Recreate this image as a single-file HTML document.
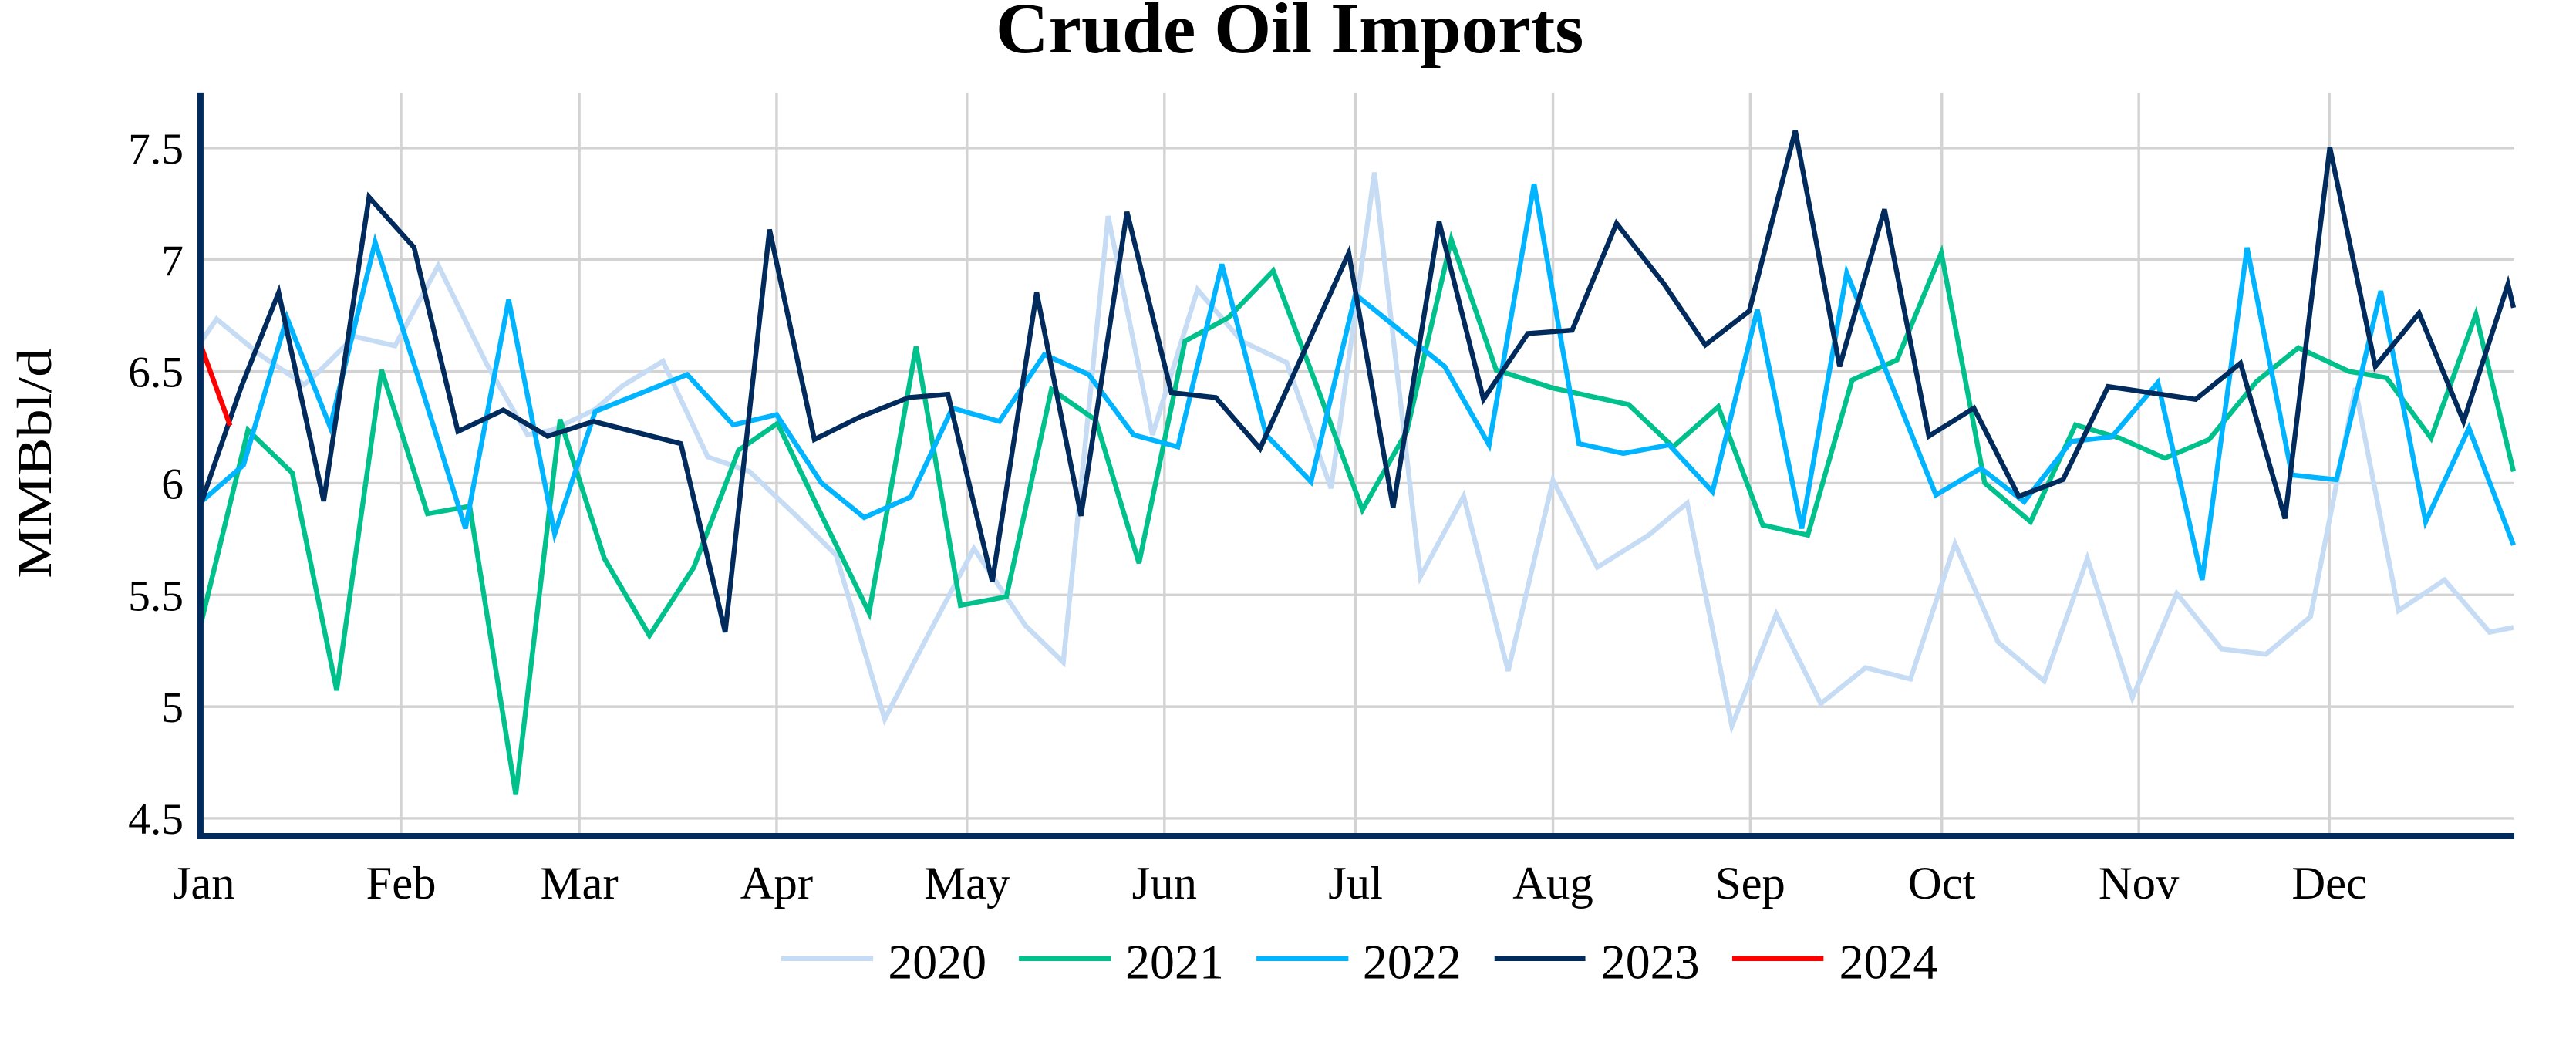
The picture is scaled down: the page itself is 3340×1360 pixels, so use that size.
<!DOCTYPE html>
<html><head><meta charset="utf-8"><style>
html,body{margin:0;padding:0;background:#fff;}
svg{display:block;}
text{font-family:"Liberation Serif","Times New Roman",serif;fill:#000;}
</style></head><body>
<svg width="3340" height="1360" viewBox="0 0 1568 638.5" xmlns="http://www.w3.org/2000/svg">
<rect width="1568" height="638.5" fill="#fff"/>
<text x="785" y="32" font-size="44" font-weight="bold" text-anchor="middle" textLength="358" lengthAdjust="spacingAndGlyphs">Crude Oil Imports</text>
<g stroke="#d3d3d3" stroke-width="1.6">
<line x1="122" y1="90.1" x2="1530.5" y2="90.1"/>
<line x1="122" y1="158.1" x2="1530.5" y2="158.1"/>
<line x1="122" y1="226.1" x2="1530.5" y2="226.1"/>
<line x1="122" y1="294.1" x2="1530.5" y2="294.1"/>
<line x1="122" y1="362.1" x2="1530.5" y2="362.1"/>
<line x1="122" y1="430.1" x2="1530.5" y2="430.1"/>
<line x1="122" y1="498.1" x2="1530.5" y2="498.1"/>
<line x1="244.1" y1="56.3" x2="244.1" y2="509"/>
<line x1="352.6" y1="56.3" x2="352.6" y2="509"/>
<line x1="472.7" y1="56.3" x2="472.7" y2="509"/>
<line x1="588.6" y1="56.3" x2="588.6" y2="509"/>
<line x1="708.8" y1="56.3" x2="708.8" y2="509"/>
<line x1="825.1" y1="56.3" x2="825.1" y2="509"/>
<line x1="945.3" y1="56.3" x2="945.3" y2="509"/>
<line x1="1065.4" y1="56.3" x2="1065.4" y2="509"/>
<line x1="1182" y1="56.3" x2="1182" y2="509"/>
<line x1="1301.9" y1="56.3" x2="1301.9" y2="509"/>
<line x1="1417.9" y1="56.3" x2="1417.9" y2="509"/>
</g>
<g fill="none" stroke-width="3" stroke-linejoin="miter">
<polyline stroke="#c6dcf5" points="122.5,207.7 131.8,194.2 158.1,215.8 171.9,225.2 185.1,234.1 194.3,226 215.7,204.8 240.4,210.5 266.8,161.6 296.4,221.9 321.1,264.7 336,261.8 362.3,249.2 378.8,234.9 403.5,219.9 430.8,278.1 456.2,287 484.2,313.5 508.9,337.9 538.5,437.7 564.8,386.8 592.8,333.9 624.1,380.7 647.2,403.1 674.5,131.5 701.5,264.7 728.9,176.3 755.9,207.7 783.2,220.7 810.2,297.2 836.6,105 864.6,351 890.9,302.1 918,408.4 945.3,292.3 972.3,345.3 1003.6,325.7 1027,306.2 1054.2,441.8 1081.2,373.8 1108.3,428.3 1135.6,406.4 1162.9,413.3 1190,331 1216.3,390.9 1244.3,414.5 1270.6,340 1298,424.7 1325,361.2 1352.3,395 1379.3,398.2 1406.4,375.4 1433.7,236.2 1460,371.7 1488,353 1515.4,384.8 1530,381.9"/>
<polyline stroke="#00c08b" points="122.5,378.7 150.9,261.8 177.9,287.9 204.9,420.2 232.2,225.2 260.2,312.7 285.9,308.2 313.9,483.7 340.9,255.3 367.9,340 395.3,386.8 422.3,345.3 449.6,274 473.3,257.7 500,313.5 529,373 557.6,211 584.6,368.5 612.6,363.2 640,237 667,255.7 693.3,342.8 721.3,207.6 747.6,193.4 775,164.9 802,236.2 829.3,310.3 856.3,262.6 883.4,145.8 910.7,225.2 945.3,236.2 991.4,246.3 1018.4,272 1045.9,247.6 1073,319.6 1100.4,325.7 1127.4,231.3 1154.7,219.1 1181.7,153.9 1208.1,294 1236,317.6 1263.4,258.6 1290.4,266.7 1317.7,278.9 1344.7,267.5 1373.7,232.1 1399.1,211.7 1429.7,226 1452.8,230 1479.8,266.7 1507.1,191.4 1530,287"/>
<polyline stroke="#00b4ff" points="122.5,305.4 148.2,283 174.6,193.4 200.9,259.8 228.3,147.4 255.3,232 283.3,321.7 309.6,182.4 337.6,325 362.3,250.4 418.3,228 446.3,258.6 472.7,252.4 500,294 526,315 554.3,302.5 579.7,248.4 608.3,256.5 635.7,215.8 662.7,228 690,264.7 717,272 743.7,160.8 770.7,264.7 798,293.2 825,179.2 879.4,223.1 906.4,270.8 933.8,112 961.1,270 988.1,276 1016,270.8 1042.4,299.3 1069.7,188.5 1096.7,321.7 1124.1,166.1 1178.4,301.3 1205.8,285 1232.1,305.4 1260.8,268.7 1285.5,265.9 1313.5,232.9 1340.5,353 1367.8,150.7 1395.1,289.1 1422.2,292 1449.2,177.1 1476.5,317.6 1502.9,260.6 1530,331.8"/>
<polyline stroke="#002b5c" points="122.5,306 146.6,236 169.6,178 197,305 224.6,120 252,150.6 278.7,262.6 306.3,249.6 333.3,265.5 361.3,256.5 414.4,270 441.4,384.8 468.4,139.7 495.7,267.5 523,254 553,242 577,240 604,354 631,178 658,314 686,129 713,239 740,242 767,273 821,154 848,309 876,135 903,243 930,203 957,201 984,136 1013,173 1038,210 1064.8,189.3 1092.8,79.4 1119.8,223.1 1147.1,127.4 1174.1,265.5 1201.5,248.4 1228.8,302.1 1255.8,291.9 1283.2,235.3 1336.5,243.1 1363.8,221.1 1390.9,315.6 1418.2,89.6 1445.9,223.1 1472.5,190.6 1499.6,256.5 1526.6,173 1530,187.3"/>
<polyline stroke="#ff0000" points="122.5,211 140,259"/>
</g>
<g stroke="#002b5c" stroke-width="3.75">
<line x1="122" y1="56.3" x2="122" y2="510.8"/>
<line x1="120" y1="508.9" x2="1530.5" y2="508.9"/>
</g>
<g font-size="27" text-anchor="end">
<text x="111.7" y="99.5">7.5</text>
<text x="111.7" y="167.5">7</text>
<text x="111.7" y="235.5">6.5</text>
<text x="111.7" y="303.5">6</text>
<text x="111.7" y="371.5">5.5</text>
<text x="111.7" y="439.5">5</text>
<text x="111.7" y="507.5">4.5</text>
</g>
<g font-size="28.5" text-anchor="middle">
<text x="124" y="547">Jan</text>
<text x="244.1" y="547">Feb</text>
<text x="352.6" y="547">Mar</text>
<text x="472.7" y="547">Apr</text>
<text x="588.6" y="547">May</text>
<text x="708.8" y="547">Jun</text>
<text x="825.1" y="547">Jul</text>
<text x="945.3" y="547">Aug</text>
<text x="1065.4" y="547">Sep</text>
<text x="1182" y="547">Oct</text>
<text x="1301.9" y="547">Nov</text>
<text x="1417.9" y="547">Dec</text>
</g>
<text transform="translate(31,282) rotate(-90)" font-size="30" text-anchor="middle" textLength="140" lengthAdjust="spacingAndGlyphs">MMBbl/d</text>
<g stroke-width="3">
<line x1="475.5" y1="583.5" x2="531.5" y2="583.5" stroke="#c6dcf5"/>
<line x1="620.2" y1="583.5" x2="676.2" y2="583.5" stroke="#00c08b"/>
<line x1="764.8" y1="583.5" x2="820.8" y2="583.5" stroke="#00b4ff"/>
<line x1="909.7" y1="583.5" x2="965" y2="583.5" stroke="#002b5c"/>
<line x1="1054.4" y1="583.5" x2="1110" y2="583.5" stroke="#ff0000"/>
</g>
<g font-size="30">
<text x="540.5" y="595.5">2020</text>
<text x="685" y="595.5">2021</text>
<text x="829.5" y="595.5">2022</text>
<text x="974.5" y="595.5">2023</text>
<text x="1119.5" y="595.5">2024</text>
</g>
</svg>
</body></html>
